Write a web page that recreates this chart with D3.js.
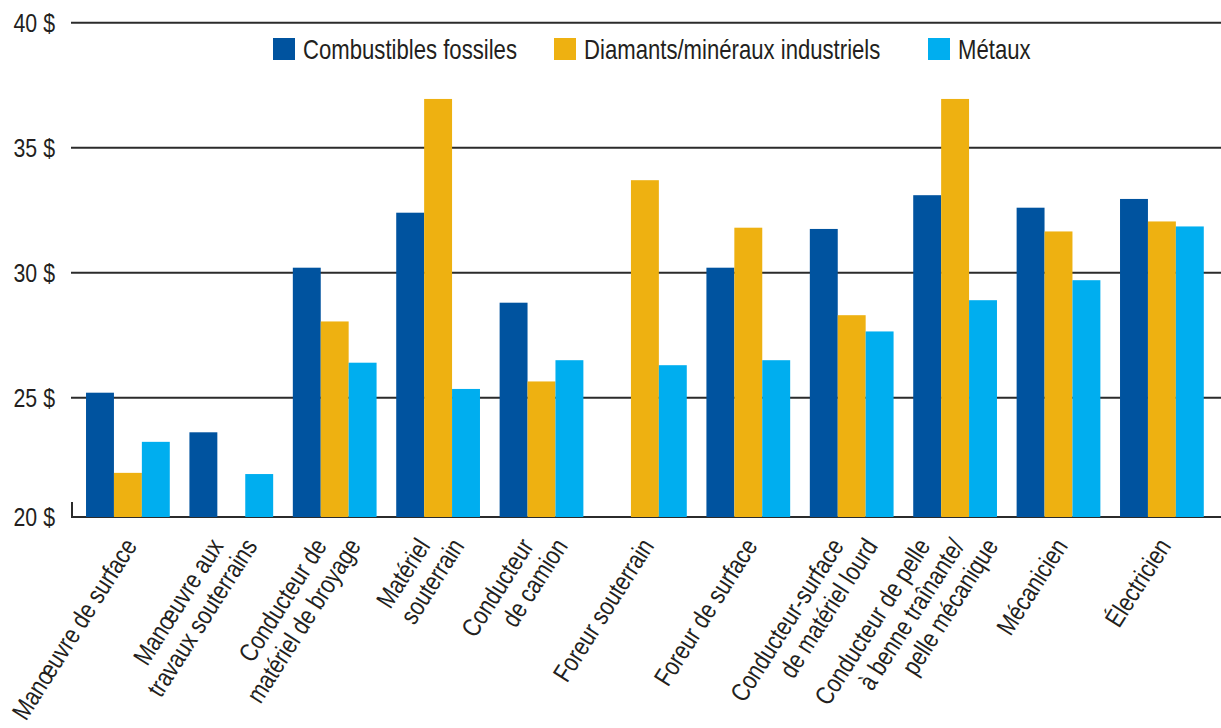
<!DOCTYPE html>
<html>
<head>
<meta charset="utf-8">
<script src="https://cdn.jsdelivr.net/npm/d3@7"></script>
<style>
  body { margin: 0; background: #fff; }
  svg text { font-family: "Liberation Sans", Arial, sans-serif; fill: #231f20; }
</style>
</head>
<body>
<div id="chart"></div>
<script>
// hourly wage by occupation and mining sector
const categories = [
  ["Manœuvre de surface"],
  ["Manœuvre aux", "travaux souterrains"],
  ["Conducteur de", "matériel de broyage"],
  ["Matériel", "souterrain"],
  ["Conducteur", "de camion"],
  ["Foreur souterrain"],
  ["Foreur de surface"],
  ["Conducteur-surface", "de matériel lourd"],
  ["Conducteur de pelle", "à benne traînante/", "pelle mécanique"],
  ["Mécanicien"],
  ["Électricien"]
];
const seriesNames = ["Combustibles fossiles", "Diamants/minéraux industriels", "Métaux"];
const fossiles = [25.2, 23.55, 30.2, 32.4, 28.8, null, 30.2, 31.75, 33.1, 32.6, 32.95];
const diamants = [21.85, null, 28.05, 36.95, 25.65, 33.7, 31.8, 28.3, 36.95, 31.65, 32.05];
const metaux = [23.15, 21.8, 26.4, 25.35, 26.5, 26.3, 26.5, 27.65, 28.9, 29.7, 31.85];
const yTicks = [20, 25, 30, 35, 40];

const colors = ["#00539f", "#eeb111", "#00aeef"];
const width = 1221, height = 728;
const narrow = "scale(0.82,1)"; // no condensed font installed, squeeze Liberation Sans

const svg = d3.select("#chart").append("svg")
    .attr("width", width)
    .attr("height", height);

// axis is broken between 20 and 25
const y = d3.scaleLinear()
    .domain([20, 25, 40])
    .range([517, 397.7, 22.7]);

const x0 = d3.scaleBand()
    .domain(d3.range(categories.length))
    .range([76.2, 1213.6])
    .paddingInner(0.19)
    .paddingOuter(0.095);

const x1 = d3.scaleBand()
    .domain(d3.range(3))
    .range([0, x0.bandwidth()]);

// grid lines
svg.append("g")
    .selectAll("line")
    .data(yTicks)
    .join("line")
    .attr("x1", 71)
    .attr("x2", width)
    .attr("y1", d => y(d))
    .attr("y2", d => y(d))
    .attr("stroke", "#2b2b2b")
    .attr("stroke-width", 2);

svg.append("line")
    .attr("x1", 72).attr("x2", 72)
    .attr("y1", y(20) - 15).attr("y2", y(20))
    .attr("stroke", "#2b2b2b")
    .attr("stroke-width", 2);

svg.append("g")
    .selectAll("text")
    .data(yTicks)
    .join("text")
    .attr("transform", d => `translate(55,${y(d)}) ${narrow}`)
    .attr("dy", "0.36em")
    .attr("text-anchor", "end")
    .style("font-size", "26px")
    .text(d => d + " $");

// bars
const series = [fossiles, diamants, metaux];
const rows = categories.map((c, i) => series.map((s, k) => ({ i, k, v: s[i] })));

svg.append("g")
    .selectAll("g")
    .data(rows)
    .join("g")
    .attr("transform", (d, i) => `translate(${x0(i)},0)`)
    .selectAll("rect")
    .data(d => d.filter(e => e.v != null))
    .join("rect")
    .attr("x", d => x1(d.k))
    .attr("width", x1.bandwidth())
    .attr("y", d => y(d.v))
    .attr("height", d => y(20) - y(d.v))
    .attr("fill", d => colors[d.k]);

// x labels, one text per line, ends kept on one horizontal
const labels = svg.append("g");
categories.forEach((lines, i) => {
  const cx = x0(i) + x0.bandwidth() / 2 + 10;
  lines.forEach((t, j) => {
    const lx = cx + (j - (lines.length - 1) / 2) * 34;
    labels.append("text")
        .attr("transform", `translate(${lx},546) rotate(-57.5) ${narrow}`)
        .attr("text-anchor", "end")
        .style("font-size", "26px")
        .text(t);
  });
});

// legend
const legendX = [273, 554, 928];
const legend = svg.append("g")
    .selectAll("g")
    .data(seriesNames)
    .join("g")
    .attr("transform", (d, i) => `translate(${legendX[i]},38)`);

legend.append("rect")
    .attr("width", 22)
    .attr("height", 22)
    .attr("fill", (d, i) => colors[i]);

legend.append("text")
    .attr("transform", `translate(30,21) ${narrow}`)
    .style("font-size", "27px")
    .text(d => d);
</script>
</body>
</html>
